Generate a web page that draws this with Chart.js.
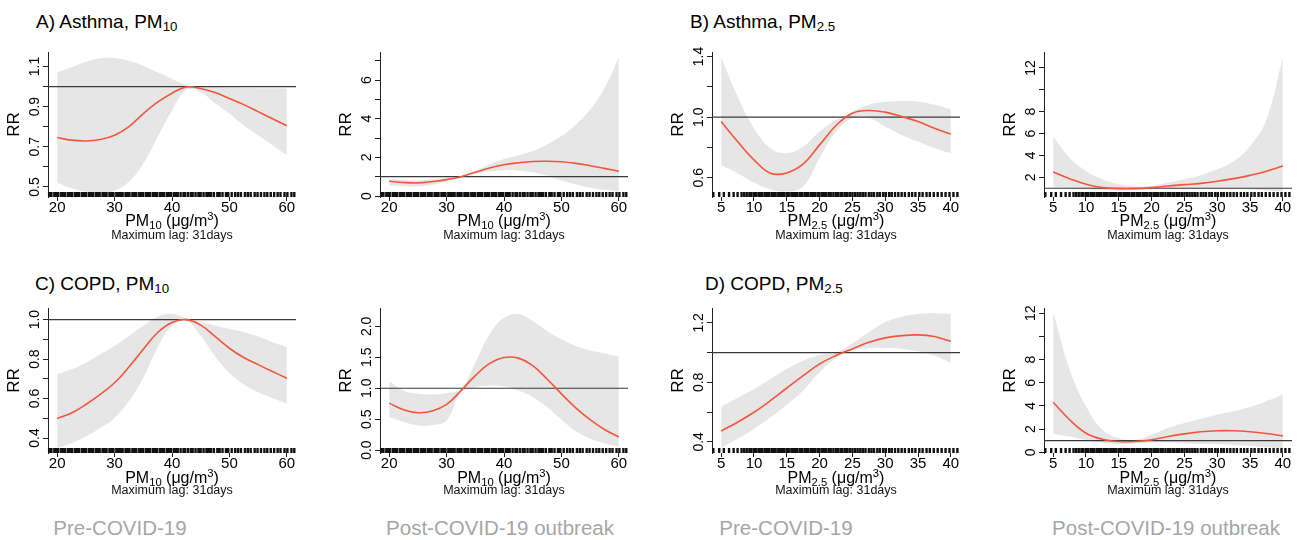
<!DOCTYPE html>
<html lang="en">
<head>
  <meta charset="UTF-8">
  <title>Particulate matter and respiratory admissions: exposure-response curves</title>
  <style>
    body {
      margin: 0;
      background-color: #ffffff;
      font-family: "Liberation Sans", Arial, sans-serif;
    }

    #figure {
      position: relative;
      width: 1304px;
      height: 540px;
      overflow: hidden;
    }

    #figure canvas {
      position: absolute;
    }

    .txt {
      position: absolute;
      white-space: nowrap;
      color: #000;
    }

    .panel-title {
      font-size: 19px;
      line-height: 19px;
    }

    .x-title {
      font-size: 16px;
      line-height: 16px;
      width: 240px;
      text-align: center;
    }

    .lag {
      font-size: 12.5px;
      line-height: 12px;
      width: 200px;
      text-align: center;
      color: #111;
    }

    .period {
      font-size: 20.5px;
      line-height: 20px;
      width: 300px;
      text-align: center;
      color: #a6a6a6;
    }

    sub { font-size: 0.7em; vertical-align: -0.25em; line-height: 0; }
    sup { font-size: 0.7em; vertical-align: 0.5em; line-height: 0; }
  </style>
</head>
<body>
  <div id="figure">
    <!-- Panel headings -->
    <div class="txt panel-title" style="left:36px; top:12px;">A) Asthma, PM<sub>10</sub></div>
    <div class="txt panel-title" style="left:690px; top:12px;">B) Asthma, PM<sub>2.5</sub></div>
    <div class="txt panel-title" style="left:35px; top:274px;">C) COPD, PM<sub>10</sub></div>
    <div class="txt panel-title" style="left:705px; top:274px;">D) COPD, PM<sub>2.5</sub></div>

    <canvas id="a1" width="306" height="179" style="left:0px; top:42px;"></canvas>
    <canvas id="a2" width="306" height="179" style="left:332px; top:42px;"></canvas>
    <canvas id="b1" width="306" height="179" style="left:664px; top:42px;"></canvas>
    <canvas id="b2" width="306" height="179" style="left:996px; top:42px;"></canvas>
    <canvas id="c1" width="306" height="179" style="left:0px; top:298px;"></canvas>
    <canvas id="c2" width="306" height="179" style="left:332px; top:298px;"></canvas>
    <canvas id="d1" width="306" height="179" style="left:664px; top:298px;"></canvas>
    <canvas id="d2" width="306" height="179" style="left:996px; top:298px;"></canvas>

    <!-- Exposure axis titles -->
    <div class="txt x-title" style="left:52px; top:213px;">PM<sub>10</sub> (μg/m<sup>3</sup>)</div>
    <div class="txt x-title" style="left:384px; top:213px;">PM<sub>10</sub> (μg/m<sup>3</sup>)</div>
    <div class="txt x-title" style="left:716px; top:213px;">PM<sub>2.5</sub> (μg/m<sup>3</sup>)</div>
    <div class="txt x-title" style="left:1048px; top:213px;">PM<sub>2.5</sub> (μg/m<sup>3</sup>)</div>
    <div class="txt x-title" style="left:52px; top:470px;">PM<sub>10</sub> (μg/m<sup>3</sup>)</div>
    <div class="txt x-title" style="left:384px; top:470px;">PM<sub>10</sub> (μg/m<sup>3</sup>)</div>
    <div class="txt x-title" style="left:716px; top:470px;">PM<sub>2.5</sub> (μg/m<sup>3</sup>)</div>
    <div class="txt x-title" style="left:1048px; top:470px;">PM<sub>2.5</sub> (μg/m<sup>3</sup>)</div>

    <div class="txt lag" style="left:72px; top:229px;">Maximum lag: 31days</div>
    <div class="txt lag" style="left:404px; top:229px;">Maximum lag: 31days</div>
    <div class="txt lag" style="left:736px; top:229px;">Maximum lag: 31days</div>
    <div class="txt lag" style="left:1068px; top:229px;">Maximum lag: 31days</div>
    <div class="txt lag" style="left:72px; top:484px;">Maximum lag: 31days</div>
    <div class="txt lag" style="left:404px; top:484px;">Maximum lag: 31days</div>
    <div class="txt lag" style="left:736px; top:484px;">Maximum lag: 31days</div>
    <div class="txt lag" style="left:1068px; top:484px;">Maximum lag: 31days</div>

    <!-- Period captions -->
    <div class="txt period" style="left:-30px; top:518px;">Pre-COVID-19</div>
    <div class="txt period" style="left:350px; top:518px;">Post-COVID-19 outbreak</div>
    <div class="txt period" style="left:636px; top:518px;">Pre-COVID-19</div>
    <div class="txt period" style="left:1016px; top:518px;">Post-COVID-19 outbreak</div>
  </div>

  <script src="https://cdn.jsdelivr.net/npm/chart.js"></script>
  <script>
    // Exposure grid (μg/m3)
    const pm10X = [20, 22.5, 25, 27.5, 30, 32.5, 35, 37.5, 40, 42.5, 45, 47.5, 50, 52.5, 55, 57.5, 60];
    const pm25X = [5, 7.5, 10, 12.5, 15, 17.5, 20, 22.5, 25, 27.5, 30, 32.5, 35, 37.5, 40];

    // A) Asthma, PM10 - pre-COVID-19
    const a1RR   = [0.746, 0.733, 0.729, 0.736, 0.757, 0.800, 0.865, 0.922, 0.967, 0.998, 0.990, 0.970, 0.940, 0.910, 0.875, 0.840, 0.805];
    const a1Low  = [0.521, 0.493, 0.477, 0.472, 0.482, 0.526, 0.617, 0.749, 0.881, 0.983, 0.972, 0.917, 0.865, 0.807, 0.757, 0.708, 0.658];
    const a1High = [1.071, 1.096, 1.124, 1.140, 1.142, 1.129, 1.104, 1.071, 1.038, 1.008, 0.998, 0.996, 0.994, 0.993, 0.992, 0.991, 0.990];

    // A) Asthma, PM10 - post-COVID-19 outbreak
    const a2RR   = [0.766, 0.700, 0.680, 0.750, 0.850, 1.000, 1.230, 1.450, 1.620, 1.720, 1.790, 1.800, 1.770, 1.690, 1.570, 1.430, 1.280];
    const a2Low  = [0.545, 0.510, 0.490, 0.580, 0.750, 0.970, 1.170, 1.280, 1.340, 1.310, 1.230, 1.060, 0.800, 0.600, 0.430, 0.320, 0.240];
    const a2High = [0.885, 0.830, 0.800, 0.850, 0.940, 1.020, 1.310, 1.650, 1.910, 2.110, 2.330, 2.670, 3.100, 3.690, 4.460, 5.570, 7.180];

    // B) Asthma, PM2.5 - pre-COVID-19
    const b1RR   = [0.971, 0.839, 0.718, 0.630, 0.632, 0.691, 0.817, 0.945, 1.026, 1.044, 1.033, 1.004, 0.971, 0.927, 0.888];
    const b1Low  = [0.685, 0.630, 0.568, 0.524, 0.509, 0.542, 0.730, 0.905, 0.993, 0.995, 0.938, 0.883, 0.839, 0.795, 0.762];
    const b1High = [1.394, 1.137, 0.927, 0.795, 0.762, 0.806, 0.905, 0.982, 1.037, 1.082, 1.101, 1.106, 1.104, 1.082, 1.053];

    // B) Asthma, PM2.5 - post-COVID-19 outbreak
    const b2RR   = [2.48, 1.88, 1.36, 1.06, 0.97, 0.97, 1.06, 1.21, 1.33, 1.45, 1.64, 1.88, 2.18, 2.55, 3.03];
    const b2Low  = [1.10, 1.00, 0.90, 0.85, 0.80, 0.85, 0.90, 0.95, 0.97, 0.98, 0.98, 0.95, 0.90, 0.80, 0.70];
    const b2High = [5.70, 3.79, 2.58, 1.82, 1.36, 1.15, 1.21, 1.52, 1.82, 2.18, 2.73, 3.48, 4.85, 7.27, 13.0];

    // C) COPD, PM10 - pre-COVID-19
    const c1RR   = [0.499, 0.527, 0.570, 0.621, 0.680, 0.760, 0.850, 0.935, 0.986, 1.000, 0.972, 0.915, 0.855, 0.808, 0.772, 0.737, 0.703];
    const c1Low  = [0.349, 0.374, 0.408, 0.451, 0.502, 0.587, 0.706, 0.859, 0.969, 0.995, 0.918, 0.815, 0.730, 0.672, 0.632, 0.603, 0.573];
    const c1High = [0.723, 0.748, 0.782, 0.825, 0.867, 0.918, 0.969, 1.015, 1.029, 1.008, 0.988, 0.970, 0.953, 0.936, 0.914, 0.886, 0.862];

    // C) COPD, PM10 - post-COVID-19 outbreak
    const c2RR   = [0.759, 0.652, 0.604, 0.631, 0.738, 0.960, 1.203, 1.401, 1.497, 1.487, 1.364, 1.150, 0.909, 0.684, 0.492, 0.332, 0.214];
    const c2Low  = [0.535, 0.455, 0.401, 0.401, 0.481, 0.930, 1.016, 1.043, 1.027, 0.963, 0.856, 0.695, 0.492, 0.310, 0.187, 0.107, 0.053];
    const c2High = [1.112, 0.963, 0.909, 0.898, 0.920, 0.990, 1.417, 1.872, 2.139, 2.203, 2.086, 1.925, 1.791, 1.684, 1.615, 1.561, 1.513];

    // D) COPD, PM2.5 - pre-COVID-19
    const d1RR   = [0.473, 0.532, 0.599, 0.677, 0.762, 0.845, 0.924, 0.980, 1.025, 1.069, 1.099, 1.114, 1.119, 1.108, 1.076];
    const d1Low  = [0.359, 0.420, 0.487, 0.565, 0.650, 0.745, 0.868, 0.964, 1.018, 1.031, 1.031, 1.025, 1.009, 0.980, 0.928];
    const d1High = [0.637, 0.695, 0.756, 0.823, 0.890, 0.946, 0.984, 1.000, 1.063, 1.137, 1.204, 1.242, 1.260, 1.264, 1.260];

    // D) COPD, PM2.5 - post-COVID-19 outbreak
    const d2RR   = [4.32, 2.81, 1.65, 1.13, 0.93, 0.93, 1.07, 1.36, 1.59, 1.77, 1.86, 1.86, 1.77, 1.62, 1.42];
    const d2Low  = [1.59, 1.36, 1.07, 0.84, 0.72, 0.78, 0.84, 0.84, 0.78, 0.72, 0.70, 0.64, 0.55, 0.43, 0.35];
    const d2High = [12.09, 7.16, 3.97, 1.94, 1.22, 1.07, 1.51, 2.09, 2.52, 2.90, 3.25, 3.54, 3.91, 4.41, 4.99];

    // Observed daily concentrations (rug)
    const pm10Rug = [18.6, 19.0, 19.5, 19.9, 20.2, 20.7, 21.1, 21.4, 21.9, 22.3, 22.6, 23.1, 23.5, 23.8, 24.3, 24.6,
      25.0, 25.5, 25.8, 26.2, 26.7, 27.0, 27.4, 27.9, 28.2, 28.6, 29.1, 29.4, 29.8, 30.3, 30.6, 31.0,
      31.4, 31.9, 32.2, 32.6, 33.1, 33.4, 33.8, 34.3, 34.6, 35.0, 35.5, 35.8, 36.2, 36.7, 37.0, 37.4,
      37.9, 38.2, 38.6, 39.1, 39.5, 39.8, 40.3, 40.7, 41.0, 41.5, 42.0, 42.3, 42.8, 43.3, 43.6, 44.1,
      44.6, 45.0, 45.5, 46.0, 46.4, 46.8, 47.3, 47.9, 48.3, 48.8, 49.4, 49.8, 50.4, 51.0, 51.5, 52.0,
      52.7, 53.2, 53.7, 54.4, 54.9, 55.5, 56.1, 56.6, 57.2, 57.8, 58.4, 58.9, 59.6, 60.1, 60.8, 61.3];
    const pm25Rug = [3.8, 4.7, 5.4, 6.2, 6.9, 7.5, 8.1, 8.5, 8.9, 9.3, 9.6, 10.0, 10.3, 10.7, 11.0, 11.3,
      11.7, 12.0, 12.3, 12.7, 13.0, 13.3, 13.7, 14.0, 14.3, 14.6, 15.0, 15.3, 15.7, 16.0, 16.3, 16.6,
      17.0, 17.3, 17.7, 18.0, 18.3, 18.7, 19.0, 19.3, 19.7, 20.0, 20.4, 20.7, 21.0, 21.4, 21.7, 22.1,
      22.5, 22.8, 23.2, 23.5, 23.9, 24.2, 24.6, 25.0, 25.4, 25.8, 26.2, 26.6, 27.0, 27.5, 27.9, 28.3,
      28.8, 29.2, 29.7, 30.1, 30.6, 31.0, 31.5, 32.0, 32.5, 33.0, 33.6, 34.1, 34.6, 35.2, 35.7, 36.3,
      36.8, 37.4, 38.0, 38.6, 39.2, 39.8, 40.4, 41.0];

    // Axis ticks
    const pm10Ticks = [20, 30, 40, 50, 60];
    const pm25Ticks = [5, 10, 15, 20, 25, 30, 35, 40];
    const a1Ticks = [0.5, 0.6, 0.7, 0.8, 0.9, 1.0, 1.1];
    const a1Labels = [0.5, 0.7, 0.9, 1.1];
    const a2Ticks = [0, 1, 2, 3, 4, 5, 6, 7];
    const a2Labels = [0, 2, 4, 6];
    const b1Ticks = [0.6, 0.8, 1.0, 1.2, 1.4];
    const b1Labels = [0.6, 1.0, 1.4];
    const b2Ticks = [2, 4, 6, 8, 10, 12];
    const b2Labels = [2, 4, 6, 8, 12];
    const c1Ticks = [0.4, 0.5, 0.6, 0.7, 0.8, 0.9, 1.0];
    const c1Labels = [0.4, 0.6, 0.8, 1.0];
    const c2Ticks = [0, 0.5, 1.0, 1.5, 2.0];
    const c2Labels = [0, 0.5, 1.0, 1.5, 2.0];
    const d1Ticks = [0.4, 0.6, 0.8, 1.0, 1.2];
    const d1Labels = [0.4, 0.8, 1.2];
    const d2Ticks = [0, 2, 4, 6, 8, 10, 12];
    const d2Labels = [0, 2, 4, 6, 8, 12];

    // Axis limits
    const pm10Range = [18.4, 61.6];
    const pm25Range = [3.6, 41.4];

    const FONT = '"Liberation Sans", Arial, sans-serif';
    Chart.defaults.font.family = FONT;
    Chart.defaults.color = "#000";

    // Rug of observed values along the bottom of the plot region
    const rugPlugin = {
      id: "rug",
      afterDatasetsDraw(chart, args, opts) {
        const { ctx, chartArea, scales } = chart;
        ctx.save();
        ctx.strokeStyle = "#111";
        ctx.lineWidth = 2.4;
        ctx.beginPath();
        opts.values.forEach((v) => {
          const px = scales.x.getPixelForValue(v);
          ctx.moveTo(px, chartArea.bottom);
          ctx.lineTo(px, chartArea.bottom - 5);
        });
        ctx.stroke();
        ctx.restore();
      },
    };

    // Y tick labels written parallel to the axis
    const yLabelPlugin = {
      id: "yLabels",
      afterDraw(chart, args, opts) {
        const { ctx, chartArea, scales } = chart;
        ctx.save();
        ctx.font = "14px " + FONT;
        ctx.fillStyle = "#000";
        ctx.textAlign = "center";
        ctx.textBaseline = "middle";
        opts.values.forEach((v) => {
          const py = scales.y.getPixelForValue(v);
          ctx.save();
          ctx.translate(chartArea.left - 13, py);
          ctx.rotate(-Math.PI / 2);
          ctx.fillText(v.toFixed(opts.digits), 0, 0);
          ctx.restore();
        });
        ctx.restore();
      },
    };

    function toPoints(xs, ys) {
      return xs.map((x, i) => ({ x: x, y: ys[i] }));
    }

    function drawPanel(id, xs, rr, low, high, xRange, xTicks, rug, yMin, yMax, yTicks, yLabels, digits) {
      const ctx = document.getElementById(id).getContext("2d");
      return new Chart(ctx, {
        type: "line",
        data: {
          datasets: [
            { data: toPoints(xs, low), borderWidth: 0, pointRadius: 0, fill: false, order: 3, tension: 0.4 },
            { data: toPoints(xs, high), borderWidth: 0, pointRadius: 0, fill: "-1", backgroundColor: "#e6e6e6", order: 3, tension: 0.4 },
            { data: [{ x: xRange[0], y: 1 }, { x: xRange[1], y: 1 }], borderColor: "#3a3a3a", borderWidth: 1.2, pointRadius: 0, order: 1 },
            { data: toPoints(xs, rr), borderColor: "#f4553a", borderWidth: 1.6, pointRadius: 0, fill: false, order: 0, tension: 0.4 },
          ],
        },
        options: {
          responsive: false,
          animation: false,
          events: [],
          layout: { padding: { left: 0, top: 10, right: 10, bottom: 0 } },
          plugins: {
            legend: { display: false },
            tooltip: { enabled: false },
            rug: { values: rug },
            yLabels: { values: yLabels, digits: digits },
          },
          scales: {
            x: {
              type: "linear",
              min: xRange[0],
              max: xRange[1],
              afterBuildTicks: (scale) => { scale.ticks = xTicks.map((v) => ({ value: v })); },
              afterFit: (scale) => { scale.height = 24; },
              border: { display: false },
              grid: { drawOnChartArea: false, drawTicks: true, tickLength: 4, tickColor: "#222", tickWidth: 1 },
              ticks: { autoSkip: false, maxRotation: 0, color: "#000", font: { size: 15 }, padding: -2 },
            },
            y: {
              type: "linear",
              min: yMin,
              max: yMax,
              afterBuildTicks: (scale) => { scale.ticks = yTicks.map((v) => ({ value: v })); },
              afterFit: (scale) => { scale.width = 48; },
              border: { display: true, color: "#222", width: 1 },
              grid: { drawOnChartArea: false, drawTicks: true, tickLength: 5, tickColor: "#222", tickWidth: 1 },
              ticks: { display: false },
              title: { display: true, text: "RR", color: "#000", font: { size: 17 }, padding: { top: 4, bottom: 0 } },
            },
          },
        },
        plugins: [rugPlugin, yLabelPlugin],
      });
    }

    drawPanel("a1", pm10X, a1RR, a1Low, a1High, pm10Range, pm10Ticks, pm10Rug, 0.45, 1.172, a1Ticks, a1Labels, 1);
    drawPanel("a2", pm10X, a2RR, a2Low, a2High, pm10Range, pm10Ticks, pm10Rug, -0.05, 7.45, a2Ticks, a2Labels, 0);
    drawPanel("b1", pm25X, b1RR, b1Low, b1High, pm25Range, pm25Ticks, pm25Rug, 0.473, 1.43, b1Ticks, b1Labels, 1);
    drawPanel("b2", pm25X, b2RR, b2Low, b2High, pm25Range, pm25Ticks, pm25Rug, 0.2, 13.46, b2Ticks, b2Labels, 0);
    drawPanel("c1", pm10X, c1RR, c1Low, c1High, pm10Range, pm10Ticks, pm10Rug, 0.324, 1.059, c1Ticks, c1Labels, 1);
    drawPanel("c2", pm10X, c2RR, c2Low, c2High, pm10Range, pm10Ticks, pm10Rug, -0.047, 2.297, c2Ticks, c2Labels, 1);
    drawPanel("d1", pm25X, d1RR, d1Low, d1High, pm25Range, pm25Ticks, pm25Rug, 0.325, 1.30, d1Ticks, d1Labels, 1);
    drawPanel("d2", pm25X, d2RR, d2Low, d2High, pm25Range, pm25Ticks, pm25Rug, -0.06, 12.46, d2Ticks, d2Labels, 0);
  </script>
</body>
</html>
